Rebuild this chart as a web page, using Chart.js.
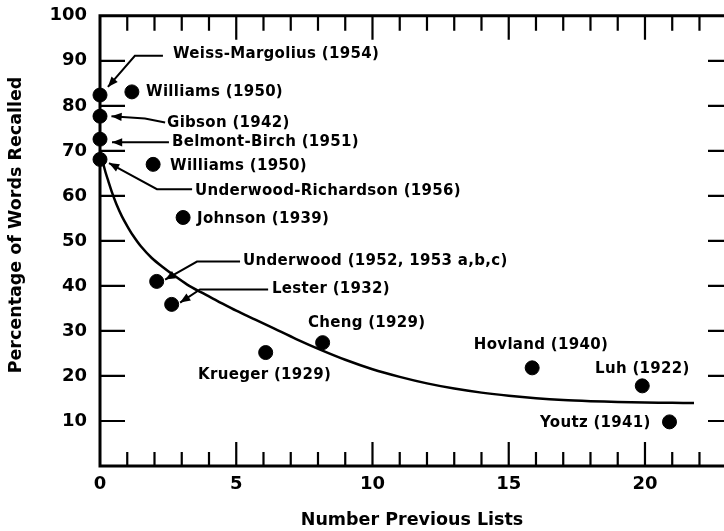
<!DOCTYPE html>
<html>
<head>
<meta charset="utf-8">
<script src="https://cdn.jsdelivr.net/npm/chart.js@4/dist/chart.umd.min.js"></script>
<style>
  html, body { margin: 0; padding: 0; background: #fff; overflow: hidden; }
  #wrap { width: 724px; height: 531px; overflow: hidden; position: relative; }
  #c { position: absolute; left: 0; top: 0; }
</style>
</head>
<body>
<div id="wrap"><canvas id="c" width="732" height="531"></canvas></div>
<script>
// Studies: number of previously learned lists vs. percentage recalled
const studies = [
  'Weiss-Margolius (1954)', 'Williams (1950)', 'Gibson (1942)', 'Belmont-Birch (1951)',
  'Williams (1950)', 'Underwood-Richardson (1956)', 'Johnson (1939)',
  'Underwood (1952, 1953 a,b,c)', 'Lester (1932)', 'Krueger (1929)', 'Cheng (1929)',
  'Hovland (1940)', 'Luh (1922)', 'Youtz (1941)'
];
const previousLists = [0, 1.17, 0, 0, 1.95, 0, 3.05, 2.08, 2.63, 6.08, 8.17, 15.86, 19.9, 20.9];
const recalled      = [82.4, 83.1, 77.7, 72.6, 67.0, 68.1, 55.2, 41.0, 35.9, 25.2, 27.4, 21.8, 17.8, 9.8];

// Fitted forgetting curve
const curveX = [0, 0.1, 0.2, 0.3, 0.45, 0.6, 0.8, 1.0, 1.2, 1.5, 1.9, 2.3, 2.7, 3.2, 3.7, 4.3, 5.0, 5.7,
                6.4, 7.2, 8.1, 9.0, 10, 11, 12, 13, 14, 15, 16, 17, 18, 19, 20, 21, 21.8];
const curveY = [70.0, 67.6, 65.3, 63.4, 60.6, 58.2, 55.5, 53.3, 51.3, 48.8, 46.2, 44.2, 42.4, 40.3, 38.6, 36.7, 34.5, 32.5,
                30.5, 28.2, 25.8, 23.6, 21.5, 19.8, 18.35, 17.2, 16.3, 15.6, 15.05, 14.65, 14.4, 14.22, 14.1, 14.03, 14.0];

// Axis tick labels
const xTickLabels = [0, 5, 10, 15, 20];
const yTickLabels = [10, 20, 30, 40, 50, 60, 70, 80, 90, 100];
const xMinorTicks = [1, 2, 3, 4, 5, 6, 7, 8, 9, 10, 11, 12, 13, 14, 15, 16, 17, 18, 19, 20, 21, 22];
const yInnerTicks = [10, 20, 30, 40, 50, 60, 70, 80, 90];
const yTitle = 'Percentage of Words Recalled';

// Where each study's name sits (data units), with an optional leader arrow
const labelLayout = [
  { i: 0,  at: [2.68, 91.5], arrow: [[2.31, 91.1], [1.28, 91.1], [0.29, 84.2]] },
  { i: 1,  at: [1.69, 83.1] },
  { i: 2,  at: [2.46, 76.2], arrow: [[2.39, 76.3], [1.65, 77.2], [0.42, 77.7]] },
  { i: 3,  at: [2.64, 71.9], arrow: [[2.53, 71.9], [0.44, 71.9]] },
  { i: 4,  at: [2.57, 66.6] },
  { i: 5,  at: [3.49, 61.0], arrow: [[3.38, 61.5], [2.09, 61.5], [0.33, 67.3]] },
  { i: 6,  at: [3.56, 54.8] },
  { i: 7,  at: [5.25, 45.4], arrow: [[5.14, 45.4], [3.56, 45.4], [2.39, 41.4]] },
  { i: 8,  at: [6.31, 39.2], arrow: [[6.17, 39.2], [3.67, 39.2], [2.94, 36.3]] },
  { i: 9,  at: [3.60, 20.3] },
  { i: 10, at: [7.63, 31.8] },
  { i: 11, at: [13.72, 26.9] },
  { i: 12, at: [18.17, 21.6] },
  { i: 13, at: [16.15, 9.6] }
];

const INK = '#000';
const FONT = '"DejaVu Sans", sans-serif';

// Frame with inward-pointing ticks on all four sides, plus the vertical axis title
const framePlugin = {
  id: 'frame',
  beforeDatasetsDraw(chart) {
    const { ctx, chartArea: a, scales: { x, y } } = chart;
    ctx.save();
    ctx.strokeStyle = INK;
    ctx.lineCap = 'butt';
    ctx.lineWidth = 3;
    ctx.beginPath();
    ctx.moveTo(a.right, a.top);
    ctx.lineTo(a.left, a.top);
    ctx.lineTo(a.left, a.bottom);
    ctx.lineTo(a.right, a.bottom);
    ctx.stroke();

    ctx.lineWidth = 2.2;
    ctx.beginPath();
    xMinorTicks.forEach(v => {
      const px = x.getPixelForValue(v);
      const major = v % 5 === 0;
      ctx.moveTo(px, a.bottom);
      ctx.lineTo(px, a.bottom - (major ? 24 : 14));
      ctx.moveTo(px, a.top);
      ctx.lineTo(px, a.top + (major ? 24 : 15));
    });
    yInnerTicks.forEach(v => {
      const py = y.getPixelForValue(v);
      ctx.moveTo(a.left, py);
      ctx.lineTo(a.left + 25, py);
      ctx.moveTo(a.right, py);
      ctx.lineTo(a.right - 16, py);
    });
    ctx.stroke();

    ctx.fillStyle = INK;
    ctx.font = 'bold 17.5px ' + FONT;
    ctx.textAlign = 'center';
    ctx.textBaseline = 'middle';
    ctx.translate(16, 225);
    ctx.rotate(-Math.PI / 2);
    ctx.fillText(yTitle, 0, 0);
    ctx.restore();
  }
};

// Study names and leader arrows
const labelPlugin = {
  id: 'studyLabels',
  afterDatasetsDraw(chart) {
    const { ctx, scales: { x, y } } = chart;
    ctx.save();
    ctx.fillStyle = INK;
    ctx.strokeStyle = INK;
    ctx.font = 'bold 15px ' + FONT;
    if ('letterSpacing' in ctx) ctx.letterSpacing = '0.3px';
    ctx.textAlign = 'left';
    ctx.textBaseline = 'middle';
    labelLayout.forEach(l => {
      ctx.fillText(studies[l.i], x.getPixelForValue(l.at[0]), y.getPixelForValue(l.at[1]));
      if (!l.arrow) return;
      const pts = l.arrow.map(p => [x.getPixelForValue(p[0]), y.getPixelForValue(p[1])]);
      ctx.lineWidth = 2;
      ctx.beginPath();
      pts.forEach((p, k) => k ? ctx.lineTo(p[0], p[1]) : ctx.moveTo(p[0], p[1]));
      ctx.stroke();
      const [ex, ey] = pts[pts.length - 1];
      const [sx, sy] = pts[pts.length - 2];
      const ang = Math.atan2(ey - sy, ex - sx);
      const len = 11, spread = 0.38;
      ctx.beginPath();
      ctx.moveTo(ex, ey);
      ctx.lineTo(ex - len * Math.cos(ang - spread), ey - len * Math.sin(ang - spread));
      ctx.lineTo(ex - len * Math.cos(ang + spread), ey - len * Math.sin(ang + spread));
      ctx.closePath();
      ctx.fill();
    });
    ctx.restore();
  }
};

new Chart(document.getElementById('c'), {
  type: 'scatter',
  data: {
    datasets: [
      {
        label: 'curve',
        data: curveX.map((v, k) => ({ x: v, y: curveY[k] })),
        showLine: true,
        borderColor: INK,
        borderWidth: 2.5,
        pointRadius: 0,
        tension: 0.3,
        clip: false,
        order: 2
      },
      {
        label: 'studies',
        data: previousLists.map((v, k) => ({ x: v, y: recalled[k] })),
        backgroundColor: INK,
        borderColor: INK,
        pointRadius: 7,
        pointHoverRadius: 7,
        clip: false,
        order: 1
      }
    ]
  },
  options: {
    responsive: false,
    animation: false,
    events: [],
    layout: { padding: { top: 14, right: 0, left: 0, bottom: 0 } },
    plugins: { legend: { display: false }, tooltip: { enabled: false } },
    scales: {
      x: {
        type: 'linear',
        min: 0,
        max: 22.9,
        afterBuildTicks: s => { s.ticks = xTickLabels.map(v => ({ value: v })); },
        afterFit: s => { s.height = 65; },
        grid: { display: false },
        border: { display: false },
        ticks: { color: INK, padding: 0, font: { family: FONT, size: 18, weight: 'bold' } },
        title: {
          display: true,
          text: 'Number Previous Lists',
          color: INK,
          padding: { top: 0, bottom: 0 },
          font: { family: FONT, size: 17.5, weight: 'bold' }
        }
      },
      y: {
        type: 'linear',
        min: 0,
        max: 100,
        afterBuildTicks: s => { s.ticks = yTickLabels.map(v => ({ value: v })); },
        afterFit: s => { s.width = 100; },
        grid: { display: false },
        border: { display: false },
        ticks: { color: INK, padding: 5, font: { family: FONT, size: 18, weight: 'bold' } }
      }
    }
  },
  plugins: [framePlugin, labelPlugin]
});
</script>
</body>
</html>
